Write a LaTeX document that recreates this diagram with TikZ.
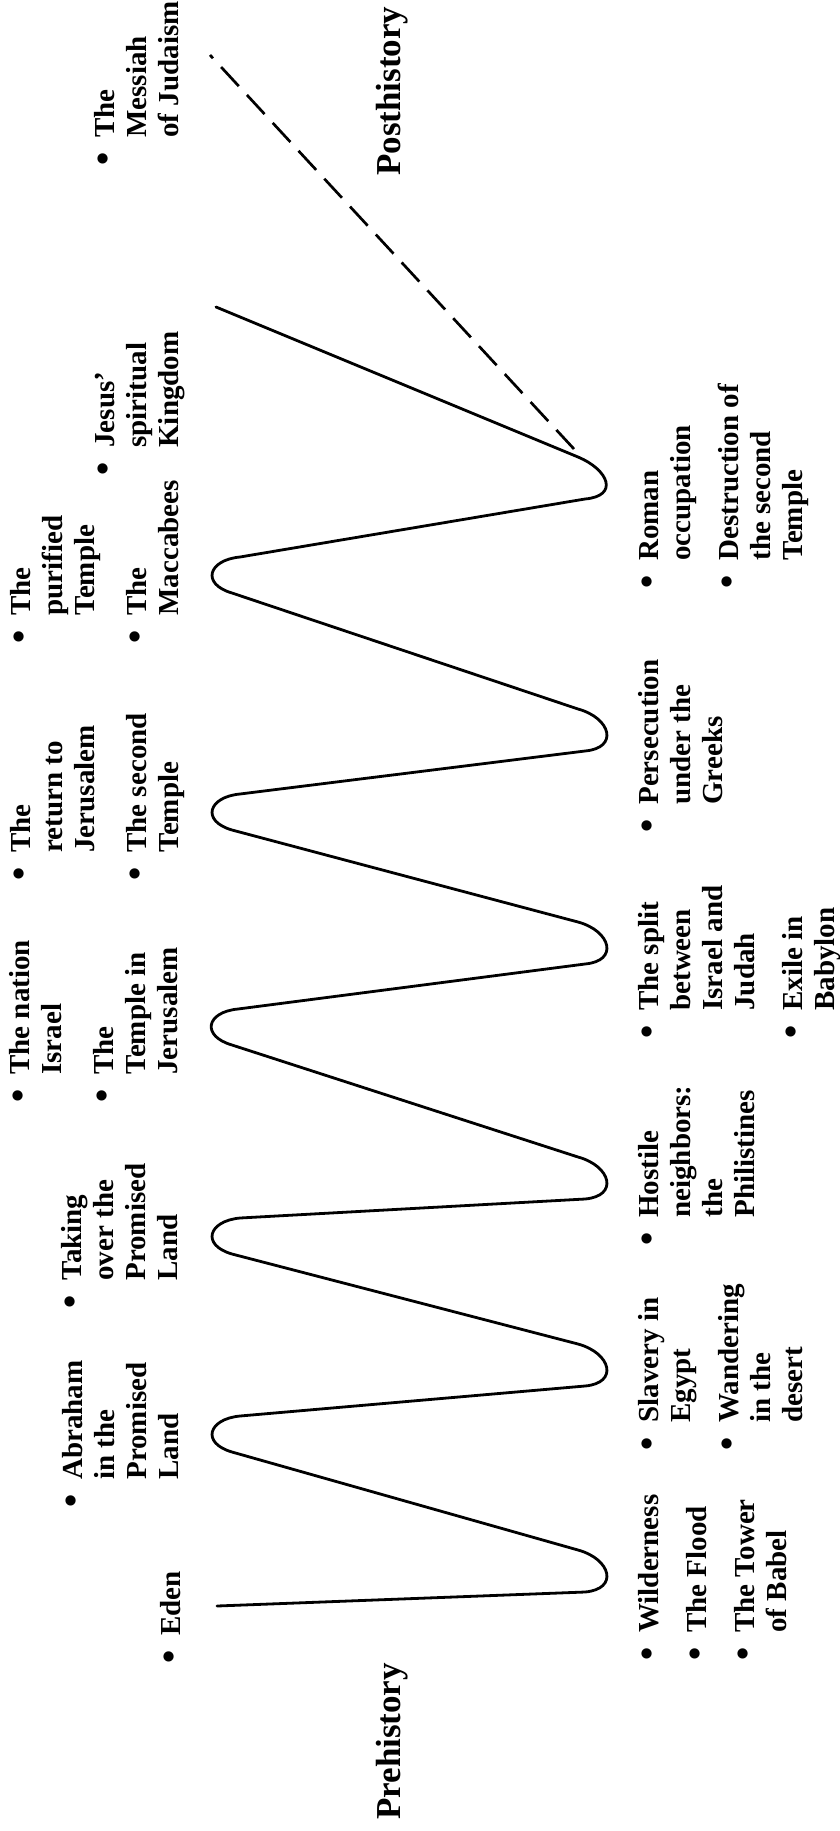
\documentclass[tikz,border=0pt]{standalone}
\usepackage{fontspec}
\usepackage{graphicx}
\setmainfont{Liberation Serif}
\newcommand{\lblfont}{\fontsize{29}{32}\selectfont\bfseries}
\newcommand{\erafont}{\fontsize{35}{40}\selectfont\bfseries}
\newcommand{\bul}{\raisebox{-0.06em}{\scalebox{1.3}{\textbullet}}}
\begin{document}
\begin{tikzpicture}[x=1pt,y=-1pt,
  wave/.style={line width=2.8pt, line join=round, line cap=round},
  future/.style={line width=2.7pt, dash pattern=on 26pt off 12pt},
  toplbl/.style={rotate=90, inner sep=0pt, font=\lblfont, anchor=base west},
  botlbl/.style={rotate=90, inner sep=0pt, font=\lblfont, anchor=base west},
  era/.style={rotate=90, inner sep=0pt, font=\erafont, anchor=base west}]
\useasboundingbox (0,0) rectangle (840,1831);

% the wave
\coordinate (eden) at (217,1606);
\coordinate (jesusend) at (216,307);
\coordinate (dashstart) at (574,449);
\coordinate (messiahend) at (210,55);
\draw[wave] (eden) -- (585,1592) .. controls +(34,-3) and +(33,9) .. (578,1550)
  -- (232,1452) .. controls +(-31,-9) and +(-32,3) .. (240,1416)
  -- (585,1386) .. controls +(34,-3) and +(33,9) .. (578,1344)
  -- (232,1254) .. controls +(-31,-9) and +(-32,3) .. (240,1218)
  -- (585,1199) .. controls +(34,-3) and +(33,9) .. (578,1157)
  -- (232,1045) .. controls +(-31,-9) and +(-32,3) .. (238,1009)
  -- (585,964) .. controls +(34,-3) and +(33,9) .. (578,922)
  -- (232,830) .. controls +(-31,-9) and +(-32,3) .. (240,794)
  -- (585,751) .. controls +(34,-3) and +(33,9) .. (578,709)
  -- (232,593) .. controls +(-31,-9) and +(-32,3) .. (240,557)
  -- (585,499) .. controls +(34,-3) and +(31,13) .. (578,457)
  -- (jesusend);
\draw[future] (dashstart) -- (messiahend);

% era labels
\node[era] (pre) at (400,1820) {Prehistory};
\node[era] (post) at (400,176) {Posthistory};

% upper labels
\node[toplbl] (edenlbl) at (180,1664) {\begin{tabular}[b]{@{}l@{\hspace{15pt}}l@{}}\bul & Eden\end{tabular}};
\node[toplbl] (abraham) at (178,1508) {\begin{tabular}[b]{@{}l@{\hspace{15pt}}l@{}}\bul & Abraham\\ & in the\\ & Promised\\ & Land\end{tabular}};
\node[toplbl] (taking) at (177,1309) {\begin{tabular}[b]{@{}l@{\hspace{15pt}}l@{}}\bul & Taking\\ & over the\\ & Promised\\ & Land\end{tabular}};
\node[toplbl] (nation) at (177,1103) {\begin{tabular}[b]{@{}l@{\hspace{15pt}}l@{}}\bul & The nation\\ & Israel\\[20pt] \bul & The\\ & Temple in\\ & Jerusalem\end{tabular}};
\node[toplbl] (return) at (178,881) {\begin{tabular}[b]{@{}l@{\hspace{15pt}}l@{}}\bul & The\\ & return to\\ & Jerusalem\\[20pt] \bul & The second\\ & Temple\end{tabular}};
\node[toplbl] (purified) at (178,644) {\begin{tabular}[b]{@{}l@{\hspace{15pt}}l@{}}\bul & The\\ & purified\\ & Temple\\[20pt] \bul & The\\ & Maccabees\end{tabular}};
\node[toplbl] (jesus) at (178,476) {\begin{tabular}[b]{@{}l@{\hspace{15pt}}l@{}}\bul & Jesus’\\ & spiritual\\ & Kingdom\end{tabular}};
\node[toplbl] (messiah) at (178,166) {\begin{tabular}[b]{@{}l@{\hspace{15pt}}l@{}}\bul & The\\ & Messiah\\ & of Judaism\end{tabular}};

% lower labels
\node[botlbl] (wild) at (658,1661) {\begin{tabular}[t]{@{}l@{\hspace{15pt}}l@{}}\bul & Wilderness\\[16pt] \bul & The Flood\\[16pt] \bul & The Tower\\ & of Babel\end{tabular}};
\node[botlbl] (slavery) at (658,1451) {\begin{tabular}[t]{@{}l@{\hspace{15pt}}l@{}}\bul & Slavery in\\ & Egypt\\[16pt] \bul & Wandering\\ & in the\\ & desert\end{tabular}};
\node[botlbl] (hostile) at (658,1246) {\begin{tabular}[t]{@{}l@{\hspace{15pt}}l@{}}\bul & Hostile\\ & neighbors:\\ & the\\ & Philistines\end{tabular}};
\node[botlbl] (split) at (658,1039) {\begin{tabular}[t]{@{}l@{\hspace{15pt}}l@{}}\bul & The split\\ & between\\ & Israel and\\ & Judah\\[16pt] \bul & Exile in\\ & Babylon\end{tabular}};
\node[botlbl] (persec) at (658,833) {\begin{tabular}[t]{@{}l@{\hspace{15pt}}l@{}}\bul & Persecution\\ & under the\\ & Greeks\end{tabular}};
\node[botlbl] (roman) at (658,589) {\begin{tabular}[t]{@{}l@{\hspace{15pt}}l@{}}\bul & Roman\\ & occupation\\[16pt] \bul & Destruction of\\ & the second\\ & Temple\end{tabular}};
\end{tikzpicture}
\end{document}
